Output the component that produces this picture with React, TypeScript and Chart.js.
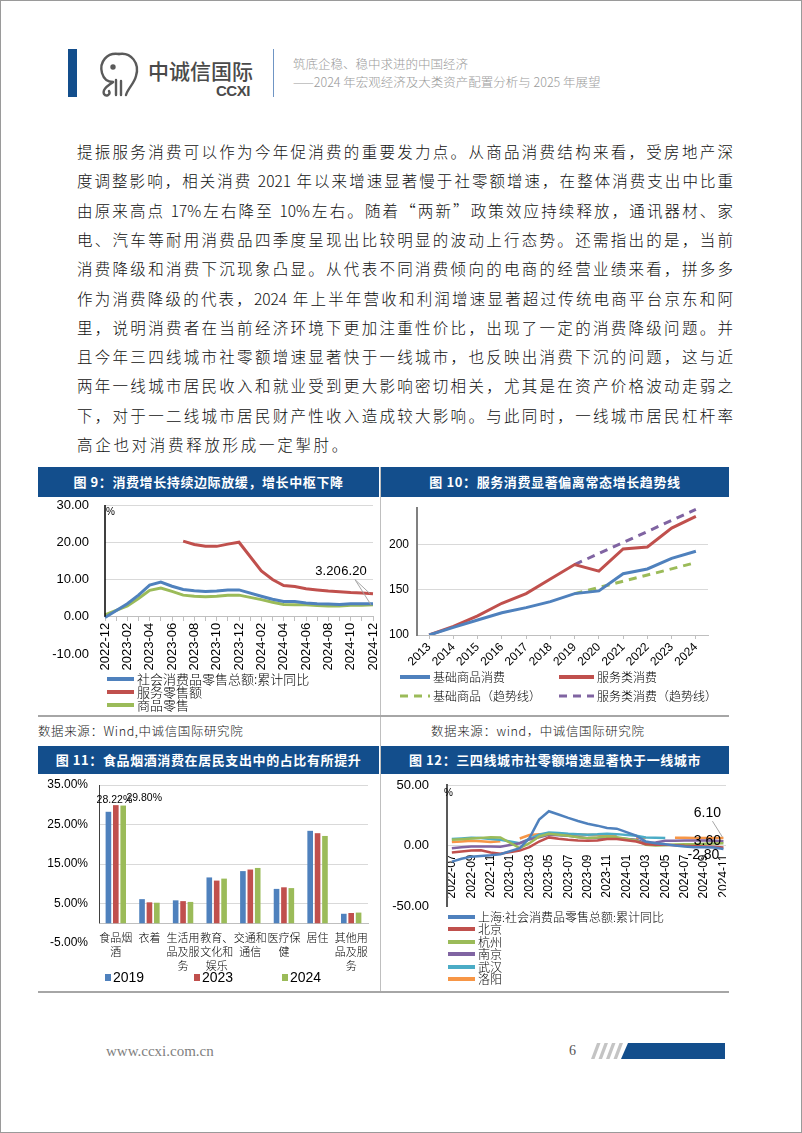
import React, { useEffect, useRef } from "react";
import { Chart, registerables } from "chart.js";
Chart.register(...registerables);

const BLUE = "#4F81BD";
const RED = "#C0504D";
const GREEN = "#9BBB59";
const PURPLE = "#8064A2";
const CYAN = "#4BACC6";
const ORANGE = "#F79646";
const NAVY = "#134E8C";
const SANS = '"Liberation Sans", Arial, sans-serif';
const CJK = '"Noto Sans CJK SC", sans-serif';
const CLEAR = "rgba(0,0,0,0)";

// ---------- Text ----------
const bodyLines = [
  "提振服务消费可以作为今年促消费的重要发力点。从商品消费结构来看，受房地产深",
  "度调整影响，相关消费 2021 年以来增速显著慢于社零额增速，在整体消费支出中比重",
  "由原来高点 17%左右降至 10%左右。随着“两新”政策效应持续释放，通讯器材、家",
  "电、汽车等耐用消费品四季度呈现出比较明显的波动上行态势。还需指出的是，当前",
  "消费降级和消费下沉现象凸显。从代表不同消费倾向的电商的经营业绩来看，拼多多",
  "作为消费降级的代表，2024 年上半年营收和利润增速显著超过传统电商平台京东和阿",
  "里，说明消费者在当前经济环境下更加注重性价比，出现了一定的消费降级问题。并",
  "且今年三四线城市社零额增速显著快于一线城市，也反映出消费下沉的问题，这与近",
  "两年一线城市居民收入和就业受到更大影响密切相关，尤其是在资产价格波动走弱之",
  "下，对于一二线城市居民财产性收入造成较大影响。与此同时，一线城市居民杠杆率",
  "高企也对消费释放形成一定掣肘。",
];

// ---------- Figure 9 ----------
const months9 = [
  "2022-12",
  "2023-01", "2023-02", "2023-03", "2023-04", "2023-05", "2023-06",
  "2023-07", "2023-08", "2023-09", "2023-10", "2023-11", "2023-12",
  "2024-01", "2024-02", "2024-03", "2024-04", "2024-05", "2024-06",
  "2024-07", "2024-08", "2024-09", "2024-10", "2024-11", "2024-12",
];
const retail9 = [-0.2, null, 3.5, 5.8, 8.5, 9.3, 8.2, 7.3, 7.0, 6.8, 6.9, 7.2, 7.2, null, 5.5, 4.7, 4.1, 4.1, 3.7, 3.5, 3.4, 3.3, 3.5, 3.5, 3.5];
const service9 = [null, null, null, null, null, null, null, 20.3, 19.4, 18.9, 18.9, 19.5, 20.0, null, 12.3, 10.0, 8.4, 8.1, 7.5, 7.2, 6.9, 6.7, 6.5, 6.4, 6.2];
const goods9 = [0.5, null, 2.9, 4.9, 7.1, 7.7, 6.8, 5.8, 5.5, 5.4, 5.5, 5.8, 5.8, null, 4.6, 3.9, 3.3, 3.2, 3.2, 3.0, 2.9, 2.9, 3.1, 3.1, 3.2];
const legend9 = ["社会消费品零售总额:累计同比", "服务零售额", "商品零售"];

// ---------- Figure 10 ----------
const years10 = ["2013", "2014", "2015", "2016", "2017", "2018", "2019", "2020", "2021", "2022", "2023", "2024"];
const basic10 = [100, 108.4, 116.5, 124.5, 130.2, 136.8, 145.6, 148.6, 167.5, 172.8, 184.5, 192.3];
const service10 = [100, 109.5, 121.0, 135.0, 145.6, 161.8, 177.7, 170.4, 194.8, 197.0, 217.8, 230.7];
const basicTrend10 = [null, null, null, null, null, null, 145.6, 152.4, 159.3, 166.1, 172.9, 179.8];
const serviceTrend10 = [null, null, null, null, null, null, 177.7, 189.8, 202.0, 214.1, 226.3, 238.5];
const ticks10 = [100, 150, 200];
const legend10 = ["基础商品消费", "服务类消费", "基础商品（趋势线）", "服务类消费（趋势线）"];

// ---------- Figure 11 ----------
const cats11 = ["食品烟酒", "衣着", "生活用品及服务", "教育、文化和娱乐", "交通和通信", "医疗保健", "居住", "其他用品及服务"];
const y2019 = [28.22, 6.1, 5.8, 11.6, 13.2, 8.7, 23.4, 2.4];
const y2023 = [29.9, 5.3, 5.6, 10.8, 13.6, 9.1, 22.8, 2.6];
const y2024 = [29.8, 5.2, 5.4, 11.3, 14.0, 8.9, 22.1, 2.7];
const series11 = ["2019", "2023", "2024"];

// ---------- Figure 12 ----------
const months12 = [
  "2022-07", "2022-08", "2022-09", "2022-10", "2022-11", "2022-12",
  "2023-01", "2023-02", "2023-03", "2023-04", "2023-05", "2023-06",
  "2023-07", "2023-08", "2023-09", "2023-10", "2023-11", "2023-12",
  "2024-01", "2024-02", "2024-03", "2024-04", "2024-05", "2024-06",
  "2024-07", "2024-08", "2024-09", "2024-10", "2024-11", "2024-12",
];
const shanghai12 = [-13.3, -11.0, -9.2, -8.6, -8.0, -7.2, null, -2.2, 6.1, 21.4, 28.3, 25.6, 22.8, 20.3, 18.0, 16.4, 14.4, 13.9, null, 8.1, 3.3, 1.9, 1.1, 0.0, -0.8, -1.4, -1.5, -1.7, -2.8, null];
const beijing12 = [-5.8, -5.0, -4.2, -4.0, -5.8, -6.9, null, -4.2, -1.4, 3.3, 6.7, 5.6, 4.7, 4.2, 3.9, 4.2, 5.3, 5.3, null, 3.3, 1.1, 0.6, 0.6, 0.3, -0.3, -0.5, -0.8, -1.1, -1.7, null];
const hangzhou12 = [4.7, 5.2, 5.8, 6.3, 6.9, 6.7, null, -2.2, 1.9, 7.5, 9.7, 8.9, 8.1, 6.9, 6.1, 6.7, 7.5, 6.9, null, 4.2, 0.6, 0.0, 0.3, 0.8, 1.1, 1.1, 1.4, 1.7, 1.9, null];
const nanjing12 = [-2.2, -1.5, -0.8, -0.8, -0.8, -1.0, null, 1.9, 5.0, 6.7, 8.9, 8.5, 8.0, 7.0, 6.1, 6.1, 6.1, 6.1, null, 4.7, 1.9, 2.5, 3.9, 4.0, 4.2, 4.2, 4.1, 4.0, 3.6, null];
const wuhan12 = [5.3, 5.8, 6.4, 6.2, 5.3, 4.7, null, 1.9, 5.5, 9.0, 10.8, 10.4, 9.7, 9.3, 8.9, 9.2, 9.7, 9.4, null, 8.0, 6.7, 6.4, 6.1, null, null, null, null, null, null, null];
const luoyang12 = [2.8, 3.3, 3.9, 3.5, 2.8, 3.5, null, 5.8, 8.6, 9.3, 9.7, 9.5, 9.2, 9.0, 8.8, 8.6, 8.4, 8.2, null, 6.5, 6.1, null, null, 6.4, 6.4, 6.3, 6.2, 6.2, 6.1, null];
const cities12 = ["上海:社会消费品零售总额:累计同比", "北京", "杭州", "南京", "武汉", "洛阳"];

// ---------- helpers ----------
const zeroPad = (s: any) => {
  s.paddingLeft = 0;
  s.paddingRight = 0;
  s.paddingTop = 0;
  s.paddingBottom = 0;
};
const wrap3 = (s: string) => {
  const out: string[] = [];
  for (let i = 0; i < s.length; i += 3) out.push(s.slice(i, i + 3));
  return out;
};
const lineDs = (label: string, data: any[], color: string, width = 3, dash: number[] = []) => ({
  label,
  data,
  borderColor: color,
  backgroundColor: color,
  borderWidth: width,
  borderDash: dash,
  pointRadius: 0,
  spanGaps: true,
  tension: 0,
  fill: false,
});

function ChartBox({ left, top, width, height, clipWidth, build }: any) {
  const ref = useRef<HTMLCanvasElement>(null);
  useEffect(() => {
    const chart = new Chart(ref.current as HTMLCanvasElement, build());
    return () => chart.destroy();
  }, []);
  return (
    <div style={{ position: "absolute", left, top, width: clipWidth ?? width, height, overflow: "hidden" }}>
      <canvas ref={ref} width={width} height={height} style={{ display: "block", width, height }} />
    </div>
  );
}

// ---------- chart configs ----------
function build9(): any {
  const plugin = {
    id: "fig9extras",
    afterDraw(chart: any) {
      const { ctx, chartArea, scales } = chart;
      const y = scales.y;
      ctx.save();
      ctx.strokeStyle = "#000";
      ctx.lineWidth = 1.5;
      ctx.beginPath();
      ctx.moveTo(chartArea.left, y.getPixelForValue(30));
      ctx.lineTo(chartArea.left, y.getPixelForValue(0));
      ctx.stroke();
      ctx.fillStyle = "#000";
      ctx.font = `10px ${SANS}`;
      ctx.textBaseline = "top";
      ctx.fillText("%", chartArea.left + 1, chartArea.top + 2);
      const last = months9.length - 1;
      const pr = chart.getDatasetMeta(1).data[last];
      const pg = chart.getDatasetMeta(2).data[last];
      const ly = pr.y - 22;
      ctx.strokeStyle = "#a6a6a6";
      ctx.lineWidth = 1;
      ctx.beginPath();
      ctx.moveTo(pr.x - 18, ly + 8);
      ctx.lineTo(pr.x - 3, pr.y);
      ctx.moveTo(pr.x - 18, ly + 8);
      ctx.lineTo(pg.x - 2, pg.y);
      ctx.stroke();
      ctx.font = `13px ${SANS}`;
      ctx.textAlign = "center";
      ctx.textBaseline = "middle";
      ctx.fillStyle = "#000";
      ctx.fillText(goods9[last].toFixed(2), pg.x - 45, ly);
      ctx.fillText(service9[last].toFixed(2), pr.x - 19, ly);
      ctx.restore();
    },
  };
  return {
    type: "line",
    data: {
      labels: months9,
      datasets: [lineDs(legend9[0], retail9, BLUE), lineDs(legend9[1], service9, RED), lineDs(legend9[2], goods9, GREEN)],
    },
    options: {
      responsive: false,
      animation: false,
      devicePixelRatio: 1,
      layout: { padding: { left: 0, top: 7, right: 6, bottom: 24 } },
      plugins: { legend: { display: false }, tooltip: { enabled: false } },
      scales: {
        x: {
          position: { y: 0 },
          offset: false,
          grid: { drawOnChartArea: false, drawTicks: true, tickLength: 4, color: "#bfbfbf" },
          border: { display: true, color: "#bfbfbf" },
          ticks: {
            autoSkip: false,
            maxRotation: 90,
            minRotation: 90,
            padding: 2,
            color: "#000",
            font: { family: SANS, size: 13 },
            callback: (_v: any, i: number) => (i % 2 === 0 ? months9[i] : ""),
          },
          afterFit: zeroPad,
        },
        y: {
          min: -10,
          max: 30,
          ticks: { stepSize: 10, padding: 16, color: "#000", font: { family: SANS, size: 13 }, callback: (v: any) => Number(v).toFixed(2) },
          grid: { drawTicks: false, color: (c: any) => (c.tick && c.tick.value === -10 ? CLEAR : "#d9d9d9") },
          border: { display: false },
          afterFit: (s: any) => {
            s.width = 67;
            zeroPad(s);
          },
        },
      },
    },
    plugins: [plugin],
  };
}

function build10(): any {
  return {
    type: "line",
    data: {
      labels: years10,
      datasets: [
        lineDs(legend10[0], basic10, BLUE),
        lineDs(legend10[1], service10, RED),
        lineDs(legend10[2], basicTrend10, GREEN, 3, [8, 6]),
        lineDs(legend10[3], serviceTrend10, PURPLE, 3, [8, 6]),
      ],
    },
    options: {
      responsive: false,
      animation: false,
      devicePixelRatio: 1,
      layout: { padding: { left: 0, top: 10, right: 21, bottom: 0 } },
      plugins: { legend: { display: false }, tooltip: { enabled: false } },
      scales: {
        x: {
          offset: true,
          grid: { drawOnChartArea: false, drawTicks: true, tickLength: 4, color: "#bfbfbf" },
          border: { color: "#bfbfbf" },
          ticks: { autoSkip: false, maxRotation: 45, minRotation: 45, padding: 1, color: "#000", font: { family: SANS, size: 12 } },
          afterFit: (s: any) => {
            s.height = 33;
            zeroPad(s);
          },
        },
        y: {
          min: 100,
          max: 240,
          afterBuildTicks: (s: any) => {
            s.ticks = ticks10.map((value) => ({ value }));
          },
          ticks: { padding: 8, color: "#000", font: { family: SANS, size: 12 } },
          grid: { drawTicks: false, color: "#d9d9d9" },
          border: { color: "#808080", width: 2 },
          afterFit: (s: any) => {
            s.width = 36;
            zeroPad(s);
          },
        },
      },
    },
  };
}

function build11(): any {
  const plugin = {
    id: "fig11extras",
    afterDraw(chart: any) {
      const { ctx, chartArea, scales } = chart;
      const y = scales.y;
      ctx.save();
      ctx.strokeStyle = "#404040";
      ctx.lineWidth = 1;
      ctx.beginPath();
      ctx.moveTo(chartArea.left + 0.5, y.getPixelForValue(35));
      ctx.lineTo(chartArea.left + 0.5, y.getPixelForValue(0));
      ctx.stroke();
      const b0 = chart.getDatasetMeta(0).data[0];
      const b2 = chart.getDatasetMeta(2).data[0];
      ctx.fillStyle = "#000";
      ctx.font = `10.5px ${SANS}`;
      ctx.textAlign = "center";
      ctx.textBaseline = "middle";
      ctx.fillText(y2019[0].toFixed(2) + "%", b0.x + 6, b0.y - 12);
      ctx.fillText(y2024[0].toFixed(2) + "%", b2.x + 21, b2.y - 7);
      ctx.restore();
    },
  };
  const bar = (label: string, data: number[], color: string) => ({ label, data, backgroundColor: color, borderWidth: 0 });
  return {
    type: "bar",
    data: {
      labels: cats11.map(wrap3),
      datasets: [bar(series11[0], y2019, BLUE), bar(series11[1], y2023, RED), bar(series11[2], y2024, GREEN)],
    },
    options: {
      responsive: false,
      animation: false,
      devicePixelRatio: 1,
      layout: { padding: { left: 0, top: 11, right: 11, bottom: 31 } },
      datasets: { bar: { categoryPercentage: 0.66, barPercentage: 0.76 } },
      plugins: { legend: { display: false }, tooltip: { enabled: false } },
      scales: {
        x: {
          position: { y: 0 },
          grid: { drawOnChartArea: false, drawTicks: false },
          border: { display: true, color: "#bfbfbf" },
          ticks: { autoSkip: false, maxRotation: 0, minRotation: 0, padding: 8, color: "#000", font: { family: CJK, size: 11, weight: 300, lineHeight: 1.27 } },
          afterFit: zeroPad,
        },
        y: {
          min: -5,
          max: 35,
          ticks: { stepSize: 10, padding: 11, color: "#000", font: { family: SANS, size: 12 }, callback: (v: any) => Number(v).toFixed(2) + "%" },
          grid: { drawTicks: false, color: (c: any) => (c.tick && c.tick.value === -5 ? CLEAR : "#d9d9d9") },
          border: { display: false },
          afterFit: (s: any) => {
            s.width = 61;
            zeroPad(s);
          },
        },
      },
    },
    plugins: [plugin],
  };
}

function build12(): any {
  const plugin = {
    id: "fig12extras",
    afterDraw(chart: any) {
      const { ctx, chartArea } = chart;
      const last = months12.length - 2;
      const pLy = chart.getDatasetMeta(5).data[last];
      const pNj = chart.getDatasetMeta(3).data[last];
      const pSh = chart.getDatasetMeta(0).data[last];
      ctx.save();
      ctx.fillStyle = "#000";
      ctx.font = `10px ${SANS}`;
      ctx.textBaseline = "top";
      ctx.fillText("%", chartArea.left - 3, chartArea.top + 3);
      ctx.strokeStyle = "#a6a6a6";
      ctx.lineWidth = 1;
      ctx.beginPath();
      ctx.moveTo(pLy.x - 11, pLy.y - 17);
      ctx.lineTo(pLy.x - 1, pLy.y - 1);
      ctx.stroke();
      ctx.font = `14px ${SANS}`;
      ctx.textAlign = "center";
      ctx.textBaseline = "middle";
      ctx.fillText(luoyang12[last]!.toFixed(2), pLy.x - 16, pLy.y - 25);
      ctx.fillText(nanjing12[last]!.toFixed(2), pNj.x - 16, pNj.y);
      ctx.fillText(shanghai12[last]!.toFixed(2), pSh.x - 20, pSh.y + 6);
      ctx.restore();
    },
  };
  const colors = [BLUE, RED, GREEN, PURPLE, CYAN, ORANGE];
  const series = [shanghai12, beijing12, hangzhou12, nanjing12, wuhan12, luoyang12];
  return {
    type: "line",
    data: {
      labels: months12,
      datasets: series.map((d, i) => ({ ...lineDs(cities12[i], d, colors[i], 2.5), spanGaps: i !== 5 })),
    },
    options: {
      responsive: false,
      animation: false,
      devicePixelRatio: 1,
      layout: { padding: { left: 0, top: 11, right: 3, bottom: 8 } },
      plugins: { legend: { display: false }, tooltip: { enabled: false } },
      scales: {
        x: {
          position: { y: 0 },
          offset: true,
          grid: { drawOnChartArea: false, drawTicks: false },
          border: { display: true, color: "#d9d9d9" },
          ticks: {
            autoSkip: false,
            maxRotation: 90,
            minRotation: 90,
            padding: 9,
            color: "#000",
            font: { family: SANS, size: 12 },
            callback: (_v: any, i: number) => (i % 2 === 0 ? months12[i] : ""),
          },
          afterFit: zeroPad,
        },
        y: {
          min: -50,
          max: 50,
          ticks: { stepSize: 50, padding: 18, color: "#000", font: { family: SANS, size: 13 }, callback: (v: any) => Number(v).toFixed(2) },
          grid: { drawTicks: false, color: (c: any) => (c.tick && c.tick.value === -50 ? CLEAR : "#d9d9d9") },
          border: { color: "#595959", width: 2 },
          afterFit: (s: any) => {
            s.width = 66;
            zeroPad(s);
          },
        },
      },
    },
    plugins: [plugin],
  };
}

// ---------- layout pieces ----------
const abs = (left: number, top: number, extra: any = {}) => ({ position: "absolute" as const, left, top, ...extra });

function TitleBar({ left, top, width, height, text }: any) {
  return (
    <div
      style={abs(left, top, {
        width,
        height,
        background: NAVY,
        color: "#fff",
        fontFamily: CJK,
        fontWeight: 700,
        fontSize: 13,
        letterSpacing: 0.6,
        lineHeight: `${height}px`,
        textAlign: "center",
        whiteSpace: "nowrap",
      })}
    >
      {text}
    </div>
  );
}

function LegendLine({ left, top, color, text, dashed, size = 13, sampleW = 27, gap = 3 }: any) {
  return (
    <div style={abs(left, top, { display: "flex", alignItems: "center", height: 14, whiteSpace: "nowrap" })}>
      <svg width={sampleW} height={6} style={{ display: "block" }}>
        <line
          x1={0}
          y1={3}
          x2={sampleW}
          y2={3}
          stroke={color}
          strokeWidth={dashed ? 3 : 4}
          strokeDasharray={dashed ? "8 6" : undefined}
        />
      </svg>
      <span style={{ marginLeft: gap, fontFamily: CJK, fontWeight: 300, fontSize: size, color: "#000", lineHeight: "14px" }}>{text}</span>
    </div>
  );
}

export default function App() {
  return (
    <div
      style={{
        position: "absolute",
        left: 0,
        top: 0,
        width: 802,
        height: 1133,
        background: "#fff",
        border: "1px solid #9a9a9a",
        boxSizing: "border-box",
        overflow: "hidden",
      }}
    >
      {/* header */}
      <div style={abs(67, 48, { width: 9, height: 48, background: NAVY })} />
      <svg style={abs(94, 50)} width={50} height={46} viewBox="0 0 50 46">
        <g fill="none" stroke="#5a5a5a" strokeWidth={2.4} strokeLinecap="round">
          <path d="M24 3 C 12 1, 4 11, 7 22 C 9 29, 14 31, 18 31" />
          <path d="M18 31 C 13 35, 7 38, 9 43 C 11 46, 16 44, 14 40" />
          <path d="M24 3 C 36 1, 45 12, 41 25 C 39 33, 33 37, 31 44" />
          <path d="M21 29 L 21 44 M 26 30 L 26 44" />
          <circle cx={18} cy={16} r={1.5} fill="#5a5a5a" />
        </g>
      </svg>
      <div style={abs(147, 56, { fontFamily: CJK, fontSize: 21, fontWeight: 500, color: "#4a4a4a", letterSpacing: 0, lineHeight: "26px", whiteSpace: "nowrap" })}>
        中诚信国际
      </div>
      <div style={abs(215, 82, { fontFamily: SANS, fontSize: 15, fontWeight: 700, color: "#4a4a4a", letterSpacing: -0.5, lineHeight: "16px" })}>
        CCXI
      </div>
      <div style={abs(272, 48, { width: 1, height: 48, background: "#6f95c4" })} />
      <div style={abs(292, 54, { fontFamily: CJK, fontSize: 12.5, fontWeight: 300, color: "#9a9a9a", lineHeight: "17px", whiteSpace: "nowrap" })}>
        筑底企稳、稳中求进的中国经济
      </div>
      <div style={abs(292, 72, { fontFamily: CJK, fontSize: 12.5, fontWeight: 300, color: "#9a9a9a", lineHeight: "17px", whiteSpace: "nowrap" })}>
        ——2024 年宏观经济及大类资产配置分析与 2025 年展望
      </div>

      {/* body text */}
      {bodyLines.map((t, i) => (
        <div
          key={i}
          style={abs(76, 150 + i * 29.3 - 11, {
            width: 656,
            fontFamily: CJK,
            fontSize: 15.5,
            fontWeight: 300,
            lineHeight: "22px",
            color: "#111",
            whiteSpace: "nowrap",
            textAlign: i === bodyLines.length - 1 ? "left" : "justify",
            textAlignLast: i === bodyLines.length - 1 ? "left" : "justify",
            letterSpacing: i === bodyLines.length - 1 ? 2.7 : 0,
          })}
        >
          {t}
        </div>
      ))}

      {/* panel frame */}
      <div style={abs(379, 466, { width: 1, height: 525, background: "#bfbfbf" })} />
      <div style={abs(37, 714, { width: 691, height: 1.5, background: "#a6a6a6" })} />
      <div style={abs(37, 990, { width: 691, height: 1.5, background: "#a6a6a6" })} />

      <TitleBar left={37} top={466} width={341} height={30} text="图 9：消费增长持续边际放缓，增长中枢下降" />
      <TitleBar left={380} top={466} width={348} height={30} text="图 10：服务消费显著偏离常态增长趋势线" />
      <TitleBar left={37} top={745} width={341} height={28} text="图 11：食品烟酒消费在居民支出中的占比有所提升" />
      <TitleBar left={380} top={745} width={348} height={28} text="图 12：三四线城市社零额增速显著快于一线城市" />

      {/* charts */}
      <ChartBox left={37} top={497} width={341} height={180} build={build9} />
      <ChartBox left={380} top={497} width={348} height={170} build={build10} />
      <ChartBox left={37} top={773} width={341} height={200} build={build11} />
      <ChartBox left={380} top={773} width={360} height={140} clipWidth={345} build={build12} />

      {/* legends fig 9 */}
      <LegendLine left={106} top={671} color={BLUE} text={legend9[0]} />
      <LegendLine left={106} top={684} color={RED} text={legend9[1]} />
      <LegendLine left={106} top={697} color={GREEN} text={legend9[2]} />

      {/* legends fig 10 */}
      <LegendLine left={399} top={669} color={BLUE} text={legend10[0]} size={12} sampleW={30} />
      <LegendLine left={558} top={669} color={RED} text={legend10[1]} size={12} sampleW={35} />
      <LegendLine left={399} top={688} color={GREEN} text={legend10[2]} size={12} sampleW={30} dashed />
      <LegendLine left={558} top={688} color={PURPLE} text={legend10[3]} size={12} sampleW={35} dashed />

      {/* legend fig 11 */}
      {[BLUE, RED, GREEN].map((c, i) => (
        <div key={i} style={abs([104, 193, 281][i], 968, { display: "flex", alignItems: "center", height: 16 })}>
          <div style={{ width: 6, height: 7, background: c }} />
          <span style={{ marginLeft: 2, fontFamily: SANS, fontSize: 14, color: "#000" }}>{series11[i]}</span>
        </div>
      ))}

      {/* legend fig 12 */}
      {[BLUE, RED, GREEN, PURPLE, CYAN, ORANGE].map((c, i) => (
        <LegendLine key={i} left={447} top={909 + i * 12.4} color={c} text={cities12[i]} size={12} sampleW={27} />
      ))}

      {/* sources */}
      <div style={abs(37, 722, { fontFamily: CJK, fontSize: 12.5, fontWeight: 300, color: "#222", letterSpacing: 0.6, lineHeight: "16px", whiteSpace: "nowrap" })}>
        数据来源：Wind,中诚信国际研究院
      </div>
      <div style={abs(430, 722, { fontFamily: CJK, fontSize: 12.5, fontWeight: 300, color: "#222", letterSpacing: 0.6, lineHeight: "16px", whiteSpace: "nowrap" })}>
        数据来源：wind，中诚信国际研究院
      </div>

      {/* footer */}
      <div style={abs(105, 1041, { fontFamily: '"Liberation Serif", serif', fontSize: 15, color: "#808080", lineHeight: "18px" })}>
        www.ccxi.com.cn
      </div>
      <div style={abs(568, 1041, { fontFamily: '"Liberation Serif", serif', fontSize: 14, color: "#555", lineHeight: "18px" })}>6</div>
      <svg style={abs(586, 1042)} width={140} height={16}>
        {[0, 1, 2, 3].map((k) => {
          const x0 = 4 + k * 7.5;
          return <polygon key={k} points={`${x0},16 ${x0 + 3.5},16 ${x0 + 9.5},0 ${x0 + 6},0`} fill="#c4c4c4" />;
        })}
        <polygon points="34,16 138,16 138,0 41,0" fill={NAVY} />
      </svg>
    </div>
  );
}
